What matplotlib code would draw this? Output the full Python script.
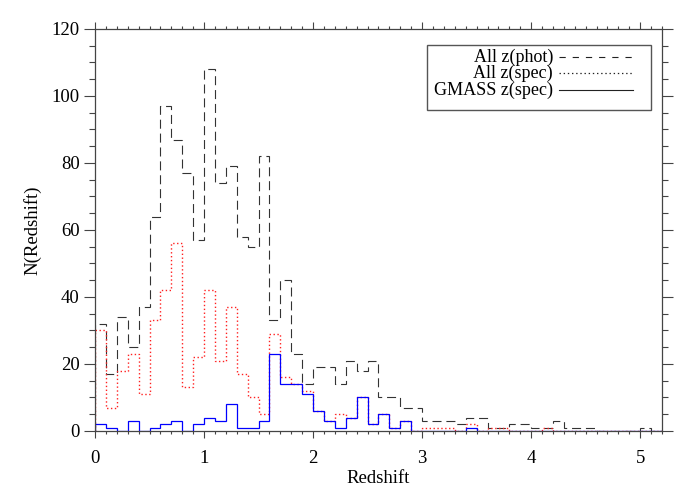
import matplotlib
matplotlib.use("Agg")
import matplotlib.pyplot as plt
import numpy as np
from matplotlib.patches import Rectangle
from matplotlib.lines import Line2D
from matplotlib.ticker import MultipleLocator


# Redshift histograms, bins of width 0.1 starting at z = 0
BIN_WIDTH = 0.1

all_phot = [32, 17, 34, 25, 37, 64, 97, 87, 77, 57,
            108, 74, 79, 58, 55, 82, 33, 45, 23, 14,
            19, 19, 14, 21, 18, 21, 10, 10, 7, 7,
            3, 3, 3, 2, 4, 4, 1, 1, 2, 2,
            1, 1, 3, 1, 1, 1, 0, 0, 0, 0,
            1, 0]

all_spec = [30, 7, 18, 23, 11, 33, 42, 56, 13, 22,
            42, 21, 37, 17, 10, 5, 29, 16, 14, 12,
            6, 3, 5, 4, 10, 2, 5, 1, 3, 0,
            1, 1, 1, 0, 2, 0, 1, 1, 0, 0,
            0, 1, 0, 0, 0, 0, 0, 0, 0, 0,
            0, 0]

gmass_spec = [2, 1, 0, 3, 0, 1, 2, 3, 0, 2,
              4, 3, 8, 1, 1, 3, 23, 14, 14, 11,
              6, 3, 1, 4, 10, 2, 5, 1, 3, 0,
              0, 0, 0, 0, 1, 0, 0, 0, 0, 0,
              0, 0, 0, 0, 0, 0, 0, 0, 0, 0,
              0, 0]

legend_labels = ["All z(phot)", "All z(spec)", "GMASS z(spec)"]


def main():
    plt.rcParams.update({
        "font.family": ["Liberation Serif", "DejaVu Serif"],
        "font.size": 13,
        "lines.scale_dashes": False,
    })

    fig = plt.figure(figsize=(6.9, 4.92), dpi=100)
    ax = fig.add_axes([0.1377, 0.1240, 0.8217, 0.8171])

    edges = np.arange(len(all_phot) + 1) * BIN_WIDTH

    dash_style = (0, (6.5, 3.5))
    dot_style = (0, (1.0, 1.8))

    ax.stairs(all_phot, edges, baseline=0, color="#333333", lw=0.8,
              linestyle=dash_style)
    ax.stairs(all_spec, edges, baseline=0, color="#ff2020", lw=1.0,
              linestyle=dot_style)
    ax.stairs(gmass_spec, edges, baseline=0, color="#0000ff", lw=0.9)

    ax.set_xlim(0, 5.2)
    ax.set_ylim(0, 120)
    ax.xaxis.set_major_locator(MultipleLocator(1))
    ax.xaxis.set_minor_locator(MultipleLocator(0.1))
    ax.yaxis.set_major_locator(MultipleLocator(20))
    ax.yaxis.set_minor_locator(MultipleLocator(5))

    for sp in ax.spines.values():
        sp.set_color("#444444")
        sp.set_linewidth(0.9)

    ax.tick_params(axis="both", which="both", direction="out",
                   top=True, right=True, color="#444444", width=0.8,
                   labelsize=13.5)
    ax.tick_params(axis="x", which="major", length=5, pad=9)
    ax.tick_params(axis="x", which="minor", length=2.5)
    ax.tick_params(axis="y", which="major", length=8, pad=3)
    ax.tick_params(axis="y", which="minor", length=4)

    ax.set_xlabel("Redshift", fontsize=13.5, labelpad=2)
    ax.set_ylabel("N(Redshift)", fontsize=13.5, labelpad=7)

    # hand-built legend: right-aligned text, line sample on the right
    ax.add_patch(Rectangle((0.5855, 0.7985), 0.3951, 0.1617,
                           transform=ax.transAxes, fill=False,
                           edgecolor="#555555", lw=1.0, zorder=5))
    styles = [(0, (4.5, 5.0)), (0, (1.0, 2.0)), "-"]
    widths = [0.8, 0.9, 0.8]
    rows = [0.9303, 0.8905, 0.8483]
    for label, ls, lw, y in zip(legend_labels, styles, widths, rows):
        ax.text(0.8078, y, label, transform=ax.transAxes, ha="right",
                va="center", fontsize=13, zorder=6)
        ax.add_line(Line2D([0.8178, 0.9489], [y, y], transform=ax.transAxes,
                           color="#222222", lw=lw, linestyle=ls, zorder=6))

    fig.savefig("out.png", dpi=100)
    plt.close(fig)


if __name__ == "__main__":
    main()
